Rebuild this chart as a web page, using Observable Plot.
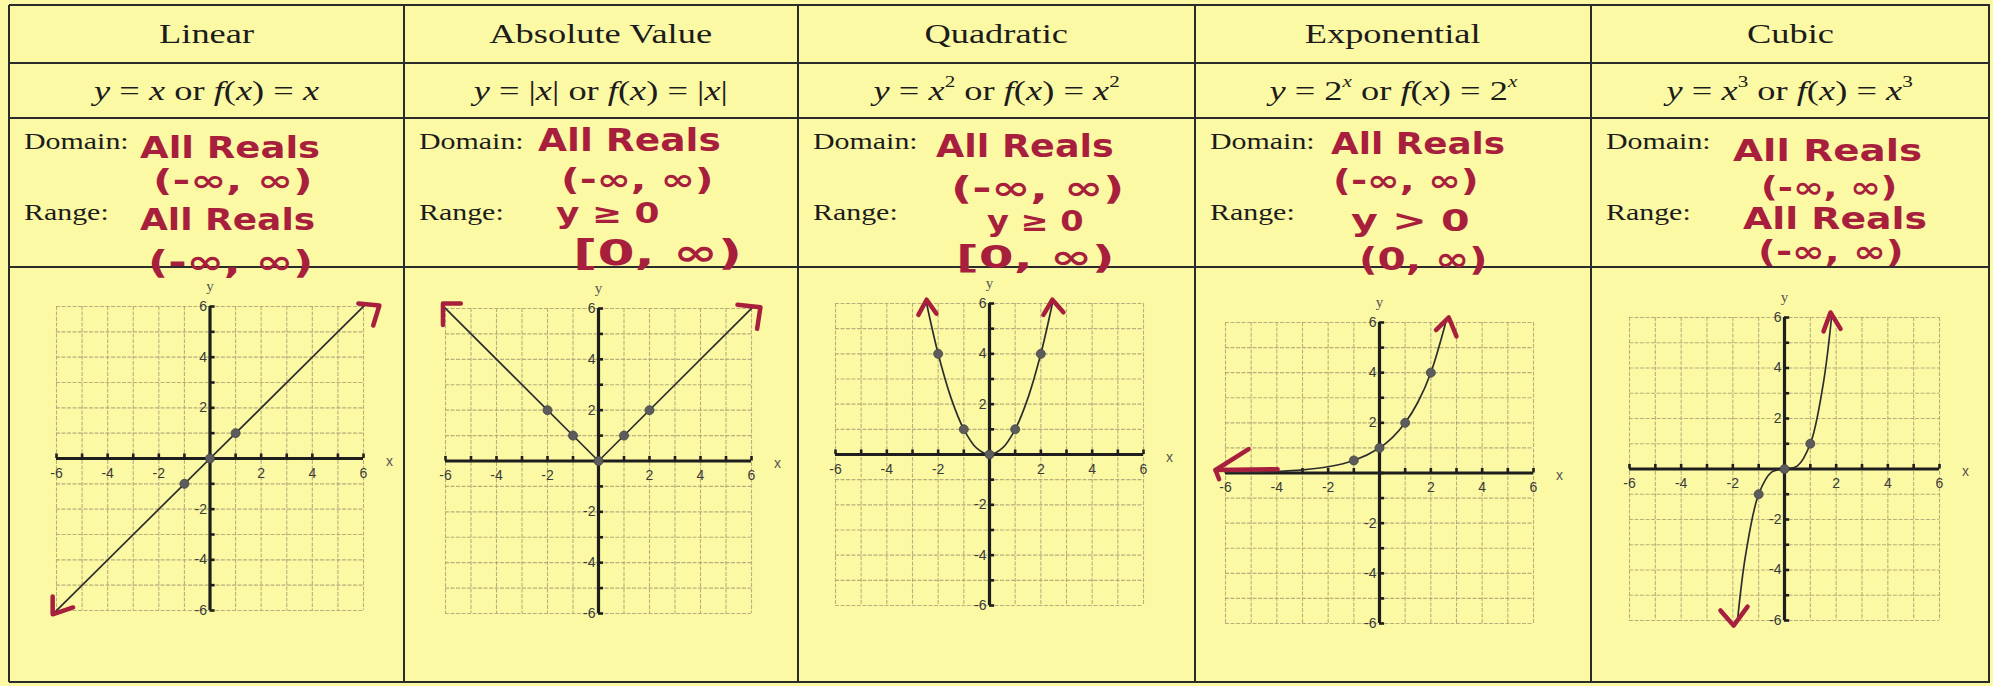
<!DOCTYPE html>
<html><head><meta charset="utf-8">
<script src="https://cdn.jsdelivr.net/npm/d3@7"></script>
<script src="https://cdn.jsdelivr.net/npm/@observablehq/plot@0.6"></script>
<style>
html,body{margin:0;padding:0;background:#fcf9a4;}
#page{position:relative;width:1993px;height:686px;overflow:hidden;background:#fcf9a4;}
.vline{position:absolute;background:#2b2b2b;}
.hline{position:absolute;background:#2b2b2b;}
.cell{position:absolute;display:flex;align-items:center;justify-content:center;}
.serif{font-family:"Liberation Serif","Times New Roman",serif;color:#1c1c1c;display:inline-block;white-space:nowrap;}
.lbl{position:absolute;line-height:1;transform-origin:left center;transform:scaleX(1.3);font-size:23px;}
.hand{position:absolute;font-family:"DejaVu Sans",sans-serif;font-weight:600;color:#a81f3d;white-space:nowrap;line-height:1;transform-origin:left center;}
.graph{position:absolute;}
sup{font-size:58%;vertical-align:0;position:relative;top:-0.75em;}
</style></head><body><div id="page"></div>
<script>
// ---- text data ----
const titles = ["Linear", "Absolute Value", "Quadratic", "Exponential", "Cubic"];
const formulas = [
  "<i>y</i> = <i>x</i> or <i>f</i>(<i>x</i>) = <i>x</i>",
  "<i>y</i> = |<i>x</i>| or <i>f</i>(<i>x</i>) = |<i>x</i>|",
  "<i>y</i> = <i>x</i><sup>2</sup> or <i>f</i>(<i>x</i>) = <i>x</i><sup>2</sup>",
  "<i>y</i> = 2<sup><i>x</i></sup> or <i>f</i>(<i>x</i>) = 2<sup><i>x</i></sup>",
  "<i>y</i> = <i>x</i><sup>3</sup> or <i>f</i>(<i>x</i>) = <i>x</i><sup>3</sup>"
];
const domainWords = ["All Reals", "All Reals", "All Reals", "All Reals", "All Reals"];
const domainIntervals = ["(-∞, ∞)", "(-∞, ∞)", "(-∞, ∞)", "(-∞, ∞)", "(-∞, ∞)"];
const rangeWords = ["All Reals", "y ≥ 0", "y ≥ 0", "y > 0", "All Reals"];
const rangeIntervals = ["(-∞, ∞)", "[0, ∞)", "[0, ∞)", "(0, ∞)", "(-∞, ∞)"];

// ---- graph data ----
const gridTicks = [-6,-5,-4,-3,-2,-1,0,1,2,3,4,5,6];
const labelTicks = [-6,-4,-2,2,4,6];

const linearLine = [[-6.1,-6.1],[6.1,6.1]];
const linearDots = [[-1,-1],[0,0],[1,1]];
const linearHeads = [
  [[5.8,6.12],[6.62,6.04],[6.38,5.25]],
  [[-6.15,-5.45],[-6.15,-6.15],[-5.35,-5.88]]
];

const absLine = [[-6.1,6.1],[0,0],[6.1,6.1]];
const absDots = [[-2,2],[-1,1],[0,0],[1,1],[2,2]];
const absHeads = [
  [[-6.1,5.35],[-6.1,6.2],[-5.4,6.2]],
  [[5.45,6.15],[6.35,6.05],[6.22,5.2]]
];

const quadCurve = [[-2.45,6],[-2,4],[-1.5,2.25],[-1,1],[-0.5,0.25],[0,0],[0.5,0.25],[1,1],[1.5,2.25],[2,4],[2.45,6]];
const quadDots = [[-2,4],[-1,1],[0,0],[1,1],[2,4]];
const quadHeads = [
  [[-2.77,5.55],[-2.45,6.15],[-2.07,5.6]],
  [[2.1,5.55],[2.45,6.15],[2.88,5.65]]
];

const expCurve = [[-6,0.02],[-5,0.03],[-4,0.06],[-3,0.125],[-2,0.25],[-1,0.5],[0,1],[0.5,1.41],[1,2],[1.5,2.83],[2,4],[2.58,6]];
const expDots = [[-1,0.5],[0,1],[1,2],[2,4]];
const expHeads = [
  [[-5.1,0.95],[-6.39,0.12],[-6.25,-0.25]],
  [[-6.39,0.12],[-3.97,0.15]],
  [[2.2,5.7],[2.7,6.2],[3.0,5.45]]
];

const cubicCurve = [[-1.82,-6],[-1.5,-3.375],[-1,-1],[-0.5,-0.125],[0,0],[0.5,0.125],[1,1],[1.5,3.375],[1.82,6]];
const cubicDots = [[-1,-1],[0,0],[1,1]];
const cubicHeads = [
  [[1.51,5.45],[1.78,6.2],[2.17,5.55]],
  [[-2.48,-5.6],[-1.97,-6.2],[-1.43,-5.45]]
];

const graphs = [
  {line: linearLine, curve: "linear", dots: linearDots, heads: linearHeads},
  {line: absLine, curve: "linear", dots: absDots, heads: absHeads},
  {line: quadCurve, curve: "catmull-rom", dots: quadDots, heads: quadHeads},
  {line: expCurve, curve: "catmull-rom", dots: expDots, heads: expHeads},
  {line: cubicCurve, curve: "catmull-rom", dots: cubicDots, heads: cubicHeads}
];

// ---- layout (pixels) ----
const colEdges = [9, 404, 798, 1195, 1591, 1989];
const rowEdges = [5, 63, 118, 267, 682];
const gridBoxes = [[56,306,307,304],[445,308,306,305],[835,303,308,302],[1225,322,308,301],[1629,317,310,303]];
const handLayout = [
  [[140,148,180,30],[153,181,160,30],[140,220,175,30],[148,262,165,32]],
  [[538,140,183,32],[561,180,153,30],[556,214,104,28],[573,253,169,36]],
  [[936,146,178,32],[951,188,173,32],[987,222,97,28],[956,257,158,32]],
  [[1331,144,174,30],[1333,181,146,30],[1351,221,118,30],[1359,259,128,32]],
  [[1733,151,189,30],[1761,188,136,28],[1743,219,184,30],[1758,252,146,30]]
];

const page = document.getElementById("page");
function el(tag, cls, style, html) {
  const d = document.createElement(tag);
  if (cls) d.className = cls;
  Object.assign(d.style, style || {});
  if (html != null) d.innerHTML = html;
  page.appendChild(d);
  return d;
}

// table lines
colEdges.forEach(x => el("div", "vline", {left: (x-1)+"px", top: rowEdges[0]+"px", width: "2px", height: (rowEdges[4]-rowEdges[0])+"px"}));
rowEdges.forEach(y => el("div", "hline", {left: colEdges[0]+"px", top: (y-1)+"px", width: (colEdges[5]-colEdges[0]+1)+"px", height: "2px"}));

titles.forEach((t, i) => {
  const c = el("div", "cell", {left: colEdges[i]+"px", top: rowEdges[0]+"px", width: (colEdges[i+1]-colEdges[i])+"px", height: (rowEdges[1]-rowEdges[0])+"px"});
  const s = document.createElement("span"); s.className = "serif"; s.style.fontSize = "28px"; s.style.transform = "scaleX(1.3)"; s.textContent = t; c.appendChild(s);
  const c2 = el("div", "cell", {left: colEdges[i]+"px", top: rowEdges[1]+"px", width: (colEdges[i+1]-colEdges[i])+"px", height: (rowEdges[2]-rowEdges[1])+"px"});
  const s2 = document.createElement("span"); s2.className = "serif"; s2.style.fontSize = "28px"; s2.style.transform = "scaleX(1.3)"; s2.innerHTML = formulas[i]; c2.appendChild(s2);
  el("span", "serif lbl", {left: (colEdges[i]+15)+"px", top: "130px"}, "Domain:");
  el("span", "serif lbl", {left: (colEdges[i]+15)+"px", top: "201px"}, "Range:");
});

// graphs
const M = 40;
const gridColor = "#ada276";
const axisFont = "Liberation Sans, Arial, sans-serif";
graphs.forEach((g, i) => {
  const [gl, gt, gw, gh] = gridBoxes[i];
  const headPts = g.heads.flatMap((pl, j) => pl.map(p => ({x: p[0], y: p[1], z: j})));
  const marks = [
    Plot.ruleX(gridTicks, {x: d => d, stroke: gridColor, strokeOpacity: 0.85, strokeWidth: 1.1, strokeDasharray: "4,1.5"}),
    Plot.ruleY(gridTicks, {y: d => d, stroke: gridColor, strokeOpacity: 0.85, strokeWidth: 1.1, strokeDasharray: "4,1.5"}),
    Plot.ruleY([0], {y: d => d, x1: -6, x2: 6, stroke: "#1e1e1e", strokeWidth: 3.2}),
    Plot.ruleX([0], {x: d => d, y1: -6, y2: 6, stroke: "#1e1e1e", strokeWidth: 3.2}),
    Plot.ruleX(gridTicks, {x: d => d, y1: 0, y2: 0.18, stroke: "#1e1e1e", strokeWidth: 2.6}),
    Plot.ruleY(gridTicks, {y: d => d, x1: 0, x2: 0.2, stroke: "#1e1e1e", strokeWidth: 2.6}),
    Plot.text(labelTicks, {x: d => d, y: 0, dy: 15, text: d => String(d), fontSize: 14, fill: "#3a3a3a", fontFamily: axisFont}),
    Plot.text(labelTicks, {x: 0, y: d => d, dx: -3, textAnchor: "end", text: d => String(d), fontSize: 14, fill: "#3a3a3a", fontFamily: axisFont}),
    Plot.text(["x"], {x: 6, y: 0, dx: 26, dy: 3, text: d => d, fontSize: 14, fill: "#555", fontFamily: axisFont}),
    Plot.text(["y"], {x: 0, y: 6, dy: -20, text: d => d, fontSize: 15, fill: "#555", fontFamily: "Liberation Serif, serif"}),
    Plot.line(g.line, {x: d => d[0], y: d => d[1], curve: g.curve, stroke: "#2e2e2e", strokeWidth: 1.7}),
    Plot.dot(g.dots, {x: d => d[0], y: d => d[1], r: 4.5, fill: "#5c5c5c", stroke: "#444", strokeWidth: 0.8}),
    Plot.line(headPts, {x: "x", y: "y", z: "z", stroke: "#a81f3d", strokeWidth: 4.5, strokeLinecap: "round", strokeLinejoin: "round"})
  ];
  const svg = Plot.plot({
    width: gw + 2*M, height: gh + 2*M, margin: M,
    x: {domain: [-6, 6], axis: null},
    y: {domain: [-6, 6], axis: null},
    style: {background: "transparent", overflow: "visible"},
    marks
  });
  const wrap = el("div", "graph", {left: (gl - M)+"px", top: (gt - M)+"px"});
  wrap.appendChild(svg);
});

// handwriting
const handText = [domainWords, domainIntervals, rangeWords, rangeIntervals];
handLayout.forEach((col, i) => {
  col.forEach(([l, cy, w, fs], k) => {
    const s = el("span", "hand", {left: l+"px", top: cy+"px", fontSize: fs+"px"}, null);
    s.textContent = handText[k][i];
    const actual = s.offsetWidth;
    s.style.transform = `translateY(-50%) scaleX(${(w / actual).toFixed(3)})`;
  });
});
</script></body></html>
